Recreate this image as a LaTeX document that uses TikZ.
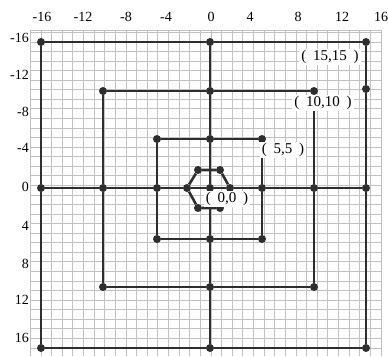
\documentclass[tikz,border=0pt]{standalone}
\usepackage{fontspec}
\setmainfont{Liberation Serif}
\begin{document}
\begin{tikzpicture}[x=1pt,y=-1pt,
  gridline/.style={draw=black!24,line width=1pt},
  frame/.style={draw=black!82,line width=2.6pt},
  dot/.style={circle,fill=black!82,inner sep=0pt,minimum size=8pt},
  tick/.style={font=\fontsize{14}{14}\selectfont,inner sep=0pt},
  lbl/.style={fill=white,inner xsep=2pt,inner ysep=1pt,font=\fontsize{15}{15}\selectfont}]
\useasboundingbox (0,0) rectangle (388,356);
% grid
\foreach \k in {-1,...,32} {\draw[gridline] ({41+10.625*\k},30) -- ({41+10.625*\k},356);}
\foreach \k in {-1,...,32} {\draw[gridline] (30,{42+9.5625*\k}) -- (382,{42+9.5625*\k});}
\draw[gridline] (30,30) -- (382,30);
% tick labels
\foreach \t/\x in {-16/42,-12/83,-8/126,-4/166,0/211,4/250,8/298,12/342,16/381}
  {\node[tick] (tx\t) at (\x,17) {\t};}
\foreach \t/\y in {-16/38,-12/75,-8/112,-4/148,0/187,4/226,8/264,12/300,16/338}
  {\node[tick,anchor=east] (ty\t) at (29,\y) {\t};}
% dots
\node[dot] (A1) at (41,42) {};
\node[dot] (A2) at (210,42) {};
\node[dot] (A3) at (366,42) {};
\node[dot] (A4) at (366,89) {};
\node[dot] (A5) at (366,188) {};
\node[dot] (A6) at (366,348) {};
\node[dot] (A7) at (210,348) {};
\node[dot] (A8) at (41,348) {};
\node[dot] (A9) at (41,188) {};
\node[dot] (B1) at (103,91) {};
\node[dot] (B2) at (210,91) {};
\node[dot] (B3) at (314,91) {};
\node[dot] (B4) at (314,188) {};
\node[dot] (B5) at (314,287) {};
\node[dot] (B6) at (210,287) {};
\node[dot] (B7) at (103,287) {};
\node[dot] (B8) at (103,188) {};
\node[dot] (C1) at (157,139) {};
\node[dot] (C2) at (210,139) {};
\node[dot] (C3) at (262,139) {};
\node[dot] (C4) at (262,188) {};
\node[dot] (C5) at (262,239) {};
\node[dot] (C6) at (210,239) {};
\node[dot] (C7) at (157,239) {};
\node[dot] (C8) at (157,188) {};
\node[dot] (H1) at (198,170) {};
\node[dot] (H2) at (220,170) {};
\node[dot] (H3) at (230,188) {};
\node[dot] (H4) at (220,208) {};
\node[dot] (H5) at (198,208) {};
\node[dot] (H6) at (187,188) {};
\node[dot] (O) at (210,188) {};
% squares
\draw[frame] (A1) -- (A2) -- (A3) -- (A4) -- (A5) -- (A6) -- (A7) -- (A8) -- (A9) -- (A1);
\draw[frame] (B1) -- (B2) -- (B3) -- (B4) -- (B5) -- (B6) -- (B7) -- (B8) -- (B1);
\draw[frame] (C1) -- (C2) -- (C3) -- (C4) -- (C5) -- (C6) -- (C7) -- (C8) -- (C1);
\draw[frame] (H1) -- (H2) -- (H3) -- (H4) -- (H5) -- (H6) -- (H1);
% axes
\draw[frame] (A2) -- (B2) -- (C2) -- (O) -- (C6) -- (B6) -- (A7);
\draw[frame] (A9) -- (B8) -- (C8) -- (H6) -- (O) -- (H3) -- (C4) -- (B4) -- (A5);
% labels
\node[lbl] (L15) at (330,57) {(\hspace{3pt} 15,15\hspace{3pt} )};
\node[lbl] (L10) at (323,103) {(\hspace{3pt} 10,10\hspace{3pt} )};
\node[lbl] (L5) at (283,150) {(\hspace{3pt} 5,5\hspace{3pt} )};
\node[lbl] (L0) at (227,199) {(\hspace{3pt} 0,0\hspace{3pt} )};
\end{tikzpicture}
\end{document}
